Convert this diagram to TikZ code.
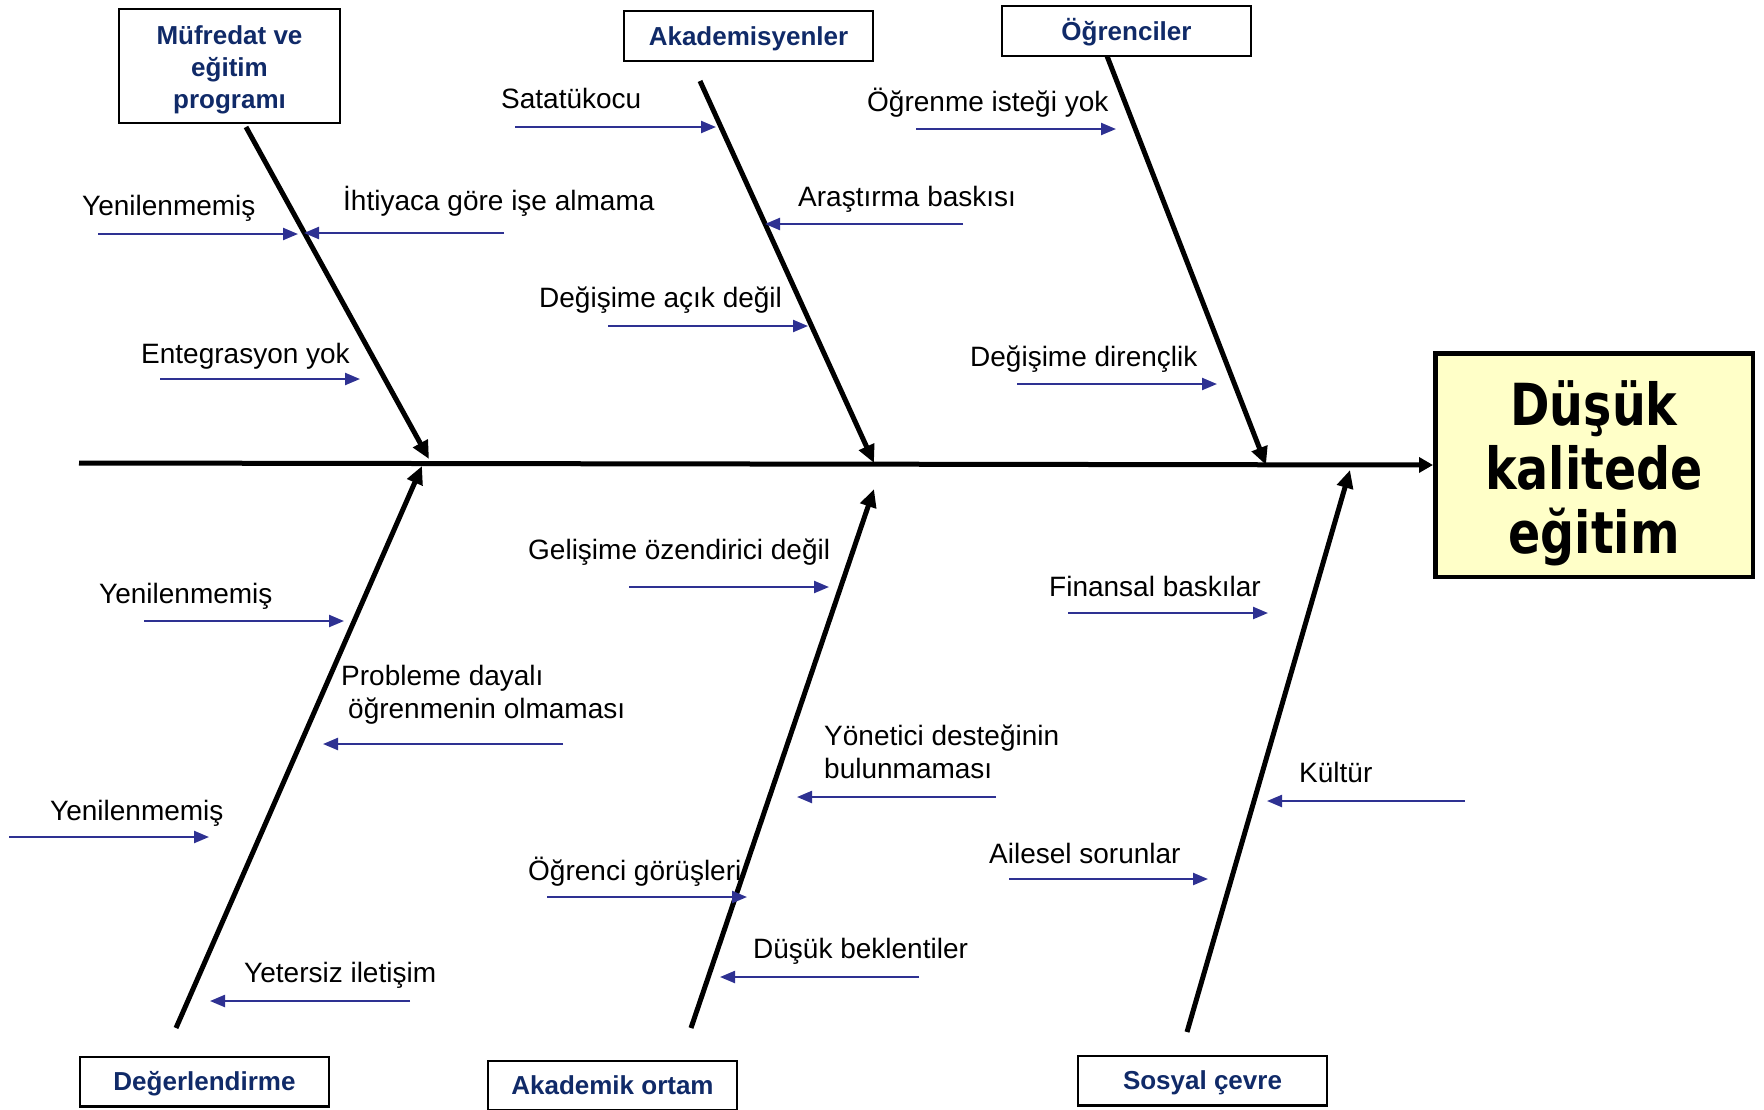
\documentclass[tikz,border=0pt]{standalone}
\usepackage{fontspec}
\setmainfont{Liberation Sans}
\newfontfamily\effectfont[FakeStretch=0.82]{DejaVu Sans}
\usepackage{tikz}
\usetikzlibrary{arrows.meta}
\definecolor{causecolor}{HTML}{102A68}
\definecolor{arrowcolor}{HTML}{2E3192}
\definecolor{effectfill}{HTML}{FFFFC8}
\tikzset{
  bone/.style={line width=5pt,-{Triangle[length=18pt,width=16pt]}},
  subarrow/.style={arrowcolor,line width=2.3pt,-{Triangle[length=15pt,width=12pt]}},
  cause/.style={draw,line width=2.3pt,text=causecolor,align=center,inner sep=0pt,
    font=\bfseries\fontsize{26}{32}\selectfont,minimum width=248.7pt,minimum height=49.7pt},
  causeone/.style={cause,text height=24pt,text depth=6pt},
  reason/.style={font=\fontsize{28}{33}\selectfont,anchor=base west,inner sep=0pt},
}
\begin{document}
\begin{tikzpicture}[x=1pt,y=-1pt]
\useasboundingbox (0,0) rectangle (1764,1109);
% effect
\node[draw,line width=4.5pt,fill=effectfill,minimum width=317.5pt,minimum height=223.5pt,
  label={[yshift=-8pt,align=center,font=\effectfont\bfseries\fontsize{58}{64}\selectfont]center:Düşük\\kalitede\\eğitim}]
  (effect) at (1594,465) {};
% causes
\node[cause,minimum width=220.7pt,minimum height=113.7pt,
  label={[yshift=-4pt,align=center,text=causecolor,font=\bfseries\fontsize{26}{32}\selectfont]center:Müfredat ve\\eğitim\\programı}]
  (mufredat) at (229.5,66) {};
\node[causeone] (akad) at (748.5,36) {Akademisyenler};
\node[causeone] (ogr) at (1126.5,31) {Öğrenciler};
\node[causeone] (deger) at (204.5,1081.5) {Değerlendirme};
\node[causeone] (ortam) at (612.5,1085.5) {Akademik ortam};
\node[causeone] (sosyal) at (1202.5,1080.5) {Sosyal çevre};
% spine and bones
\coordinate (tail) at (79,463);
\draw[line width=5pt,-{Triangle[length=14pt,width=15pt]}] (tail) -- (effect.west);
\coordinate (b1s) at (246,127);  \coordinate (b1e) at (429,459);
\coordinate (b2s) at (700,81);   \coordinate (b2e) at (874,463);
\coordinate (b3s) at (1107,56);  \coordinate (b3e) at (1266,465);
\coordinate (b4s) at (176,1028); \coordinate (b4e) at (422,466);
\coordinate (b5s) at (691,1028); \coordinate (b5e) at (874,489);
\coordinate (b6s) at (1187,1032);\coordinate (b6e) at (1350,470);
\foreach \b in {1,...,6}
  \draw[bone] (b\b s) -- (b\b e);
% small arrows
\foreach \xa/\xb/\y in {98/298/234, 504/304/233, 160/360/379,
    515/716/127, 963/765/224, 608/808/326,
    916/1116/129, 1017/1217/384,
    144/344/621, 563/323/744, 9/209/837, 410/210/1001,
    629/829/587, 996/797/797, 547/747/897, 919/720/977,
    1068/1268/613, 1465/1267/801, 1009/1208/879}
  \draw[subarrow] (\xa,\y) -- (\xb,\y);
% labels
\node[reason] (r1) at (82,215) {Yenilenmemiş};
\node[reason] (r2) at (343,210) {İhtiyaca göre işe almama};
\node[reason] (r3) at (141,363) {Entegrasyon yok};
\node[reason] (r4) at (501,108) {Satatükocu};
\node[reason] (r5) at (798,206) {Araştırma baskısı};
\node[reason] (r6) at (539,307) {Değişime açık değil};
\node[reason] (r7) at (867,111) {Öğrenme isteği yok};
\node[reason] (r8) at (970,366) {Değişime dirençlik};
\node[reason] (r9) at (99,603) {Yenilenmemiş};
\node[reason,anchor=west,align=left] (r10) at (341,695) {Probleme dayalı\\\hspace*{0.25em}öğrenmenin olmaması};
\node[reason] (r11) at (50,820) {Yenilenmemiş};
\node[reason] (r12) at (244,982) {Yetersiz iletişim};
\node[reason] (r13) at (528,559) {Gelişime özendirici değil};
\node[reason,anchor=west,align=left] (r14) at (824,752) {Yönetici desteğinin\\bulunmaması};
\node[reason] (r15) at (528,880) {Öğrenci görüşleri};
\node[reason] (r16) at (753,958) {Düşük beklentiler};
\node[reason] (r17) at (1049,596) {Finansal baskılar};
\node[reason] (r18) at (1299,782) {Kültür};
\node[reason] (r19) at (989,863) {Ailesel sorunlar};
\end{tikzpicture}
\end{document}
